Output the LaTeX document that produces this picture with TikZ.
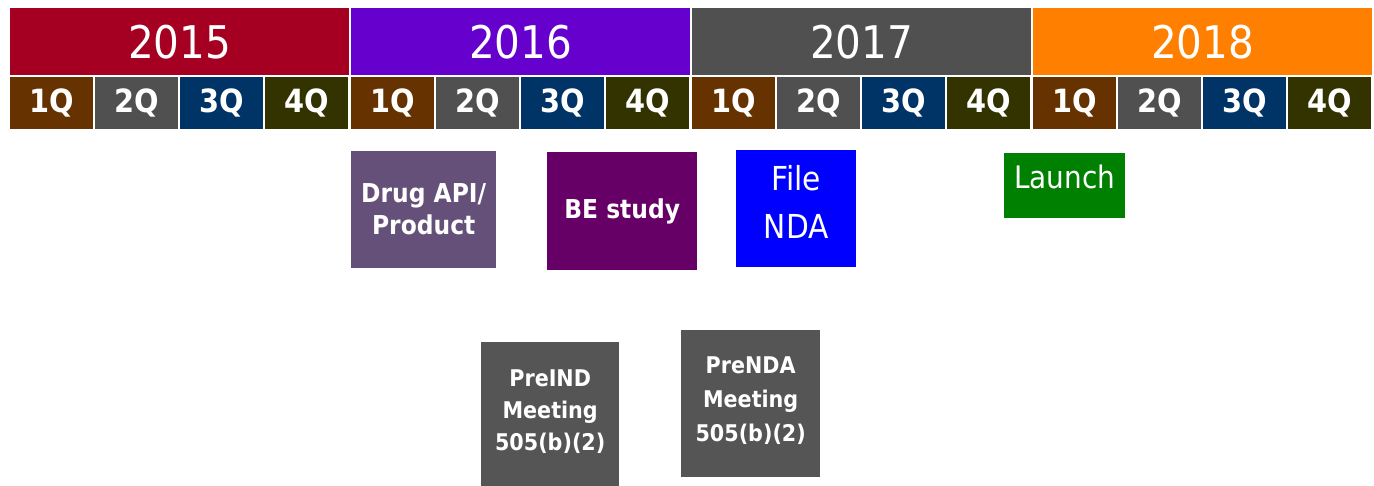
\documentclass[tikz,border=0pt]{standalone}
\usepackage{fontspec}
\setmainfont{DejaVu Sans Condensed}
\usetikzlibrary{positioning}

\definecolor{yr15}{HTML}{A50021}
\definecolor{yr16}{HTML}{6600CC}
\definecolor{yr17}{HTML}{505050}
\definecolor{yr18}{HTML}{FF8000}
\definecolor{qa}{HTML}{663300}
\definecolor{qb}{HTML}{505050}
\definecolor{qc}{HTML}{003366}
\definecolor{qd}{HTML}{333300}
\definecolor{apic}{HTML}{645078}
\definecolor{bec}{HTML}{660066}
\definecolor{ndac}{HTML}{0000FF}
\definecolor{launchc}{HTML}{008000}
\definecolor{meetc}{HTML}{555555}

\tikzset{
  yearbox/.style={fill=#1, text=white, anchor=north west, inner sep=0pt,
    minimum width=339pt, minimum height=67pt, font=\fontsize{45}{45}\selectfont},
  qbox/.style={fill=#1, text=white, anchor=north west, inner sep=0pt,
    minimum width=83pt, minimum height=52pt, font=\fontsize{32}{32}\selectfont\bfseries},
  taskbox/.style={fill=#1, text=white, anchor=north west, inner sep=0pt,
    align=center}
}

\begin{document}
\begin{tikzpicture}[x=1pt, y=-1pt]
	\useasboundingbox (0,0) rectangle (1374,485);
	
	% years and quarters
	\foreach \yr/\col [count=\i from 0] in {2015/yr15, 2016/yr16, 2017/yr17, 2018/yr18} {
		\node[yearbox=\col] (y\yr) at (10+341*\i, 8) {\yr};
		\foreach \q/\qcol [count=\j from 0] in {1/qa, 2/qb, 3/qc, 4/qd}
			\node[qbox=\qcol] (y\yr q\q) at (10+341*\i+85*\j, 77) {\q Q};
	}
	
	% milestones
	\node[taskbox=apic, minimum width=145pt, minimum height=117pt,
		font=\fontsize{26}{32}\selectfont\bfseries] (api) at (351, 151) {Drug API/\\Product};
	\node[taskbox=bec, minimum width=150pt, minimum height=118pt,
		font=\fontsize{26}{31}\selectfont\bfseries] (be) at (547, 152) {BE study};
	\node[taskbox=ndac, minimum width=120pt, minimum height=117pt, text depth=14pt,
		font=\fontsize{33}{48}\selectfont] (nda) at (736, 150) {File\\NDA};
	\node[taskbox=launchc, minimum width=121pt, minimum height=65pt, text depth=18pt,
		font=\fontsize{31}{31}\selectfont] (launch) at (1004, 153) {Launch};
	
	% meetings
	\node[taskbox=meetc, minimum width=138pt, minimum height=150pt, text depth=14pt,
		font=\fontsize{23}{32}\selectfont\bfseries] (preind) at (481, 342) {PreIND\\Meeting\\505(b)(2)};
	\node[taskbox=meetc, minimum width=139pt, minimum height=147pt, text depth=10pt,
		font=\fontsize{23}{34}\selectfont\bfseries] (prenda) at (681, 330) {PreNDA\\Meeting\\505(b)(2)};
	
\end{tikzpicture}
\end{document}
